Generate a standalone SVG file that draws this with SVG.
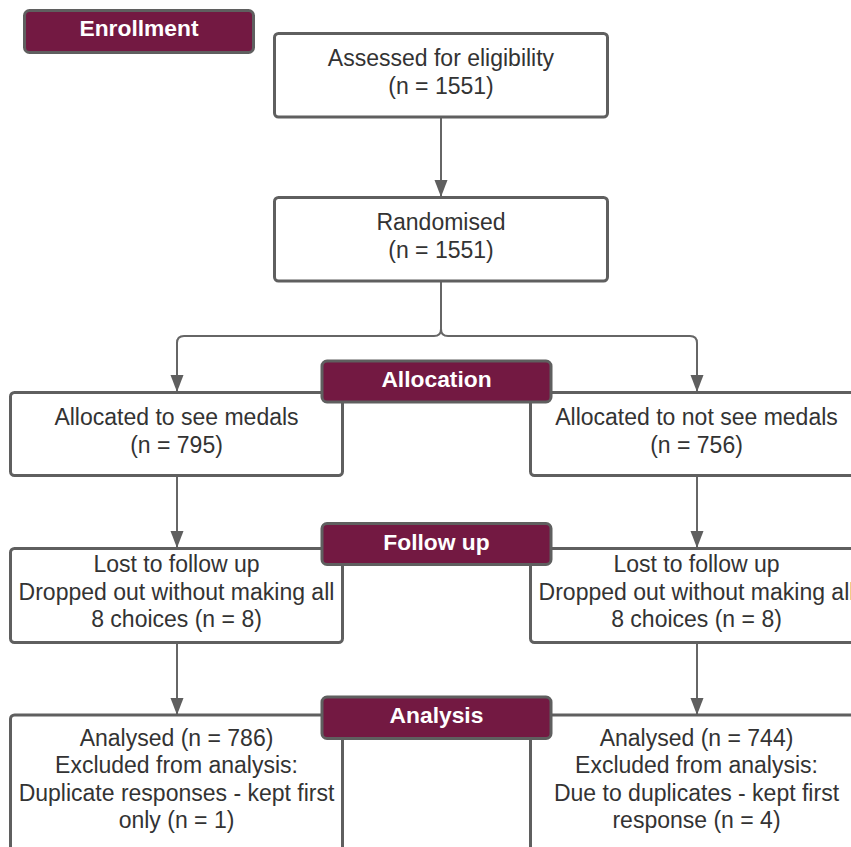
<svg xmlns="http://www.w3.org/2000/svg" width="851" height="847" viewBox="0 0 851 847">
<defs>
<style>
.box{fill:#ffffff;stroke:#5f5f5f;stroke-width:3}
.lbl{fill:#731942;stroke:#5f5f5f;stroke-width:3}
.t{font-family:"Liberation Sans",Arial,sans-serif;font-size:23px;fill:#333333;text-anchor:middle}
.lt{font-family:"Liberation Sans",Arial,sans-serif;font-size:22.8px;font-weight:bold;fill:#ffffff;text-anchor:middle}
.c{fill:none;stroke:#666666;stroke-width:2}
</style>
<marker id="arr" markerWidth="18" markerHeight="14" refX="17" refY="7" orient="auto" markerUnits="userSpaceOnUse" viewBox="0 0 18 14">
<path d="M0,0.5 L17,7 L0,13.5 Z" fill="#5f5f5f"/>
</marker>
</defs>
<rect width="851" height="847" fill="#ffffff"/>

<g id="connectors">
<path class="c" d="M441,117 V197" marker-end="url(#arr)"/>
<path class="c" d="M441,281 V329 Q441,336 434,336 H184 Q177,336 177,343 V392" marker-end="url(#arr)"/>
<path class="c" d="M441,281 V329 Q441,336 448,336 H690 Q697,336 697,343 V392" marker-end="url(#arr)"/>
<path class="c" d="M177,476 V548" marker-end="url(#arr)"/>
<path class="c" d="M697,476 V548" marker-end="url(#arr)"/>
<path class="c" d="M177,643 V715" marker-end="url(#arr)"/>
<path class="c" d="M697,643 V715" marker-end="url(#arr)"/>
</g>

<g id="assessed">
<rect class="box" x="274.5" y="33.5" width="333" height="83.5" rx="4"/>
<text class="t" x="441" y="66">Assessed for eligibility</text>
<text class="t" x="441" y="94">(n = 1551)</text>
</g>

<g id="randomised">
<rect class="box" x="274.5" y="197.5" width="333" height="83.5" rx="4"/>
<text class="t" x="441" y="230">Randomised</text>
<text class="t" x="441" y="258">(n = 1551)</text>
</g>

<g id="alloc-left">
<rect class="box" x="10.5" y="392.5" width="332" height="83" rx="4"/>
<text class="t" x="176.5" y="424.5">Allocated to see medals</text>
<text class="t" x="176.5" y="452.5">(n = 795)</text>
</g>

<g id="alloc-right">
<rect class="box" x="530.5" y="392.5" width="333" height="83" rx="4"/>
<text class="t" x="696.5" y="424.5">Allocated to not see medals</text>
<text class="t" x="696.5" y="452.5">(n = 756)</text>
</g>

<g id="follow-left">
<rect class="box" x="10.5" y="548.5" width="332" height="94" rx="4"/>
<text class="t" x="176.5" y="572">Lost to follow up</text>
<text class="t" x="176.5" y="599.5">Dropped out without making all</text>
<text class="t" x="176.5" y="627">8 choices (n = 8)</text>
</g>

<g id="follow-right">
<rect class="box" x="530.5" y="548.5" width="333" height="94" rx="4"/>
<text class="t" x="696.5" y="572">Lost to follow up</text>
<text class="t" x="696.5" y="599.5">Dropped out without making all</text>
<text class="t" x="696.5" y="627">8 choices (n = 8)</text>
</g>

<g id="analysis-left">
<rect class="box" x="10.5" y="715" width="332" height="136" rx="4"/>
<text class="t" x="176.5" y="745.5">Analysed (n = 786)</text>
<text class="t" x="176.5" y="773">Excluded from analysis:</text>
<text class="t" x="176.5" y="800.5">Duplicate responses - kept first</text>
<text class="t" x="176.5" y="828">only (n = 1)</text>
</g>

<g id="analysis-right">
<rect class="box" x="530.5" y="715" width="333" height="136" rx="4"/>
<text class="t" x="696.5" y="745.5">Analysed (n = 744)</text>
<text class="t" x="696.5" y="773">Excluded from analysis:</text>
<text class="t" x="696.5" y="800.5">Due to duplicates - kept first</text>
<text class="t" x="696.5" y="828">response (n = 4)</text>
</g>

<g id="label-enrollment">
<rect class="lbl" x="24.5" y="10.5" width="229" height="42" rx="5"/>
<text class="lt" x="139" y="35.5">Enrollment</text>
</g>

<g id="label-allocation">
<rect class="lbl" x="322" y="361" width="229" height="41" rx="5"/>
<text class="lt" x="436.5" y="387">Allocation</text>
</g>

<g id="label-followup">
<rect class="lbl" x="322" y="523.5" width="229" height="41" rx="5"/>
<text class="lt" x="436.5" y="549.5">Follow up</text>
</g>

<g id="label-analysis">
<rect class="lbl" x="322" y="697" width="229" height="41.5" rx="5"/>
<text class="lt" x="436.5" y="723">Analysis</text>
</g>
</svg>
